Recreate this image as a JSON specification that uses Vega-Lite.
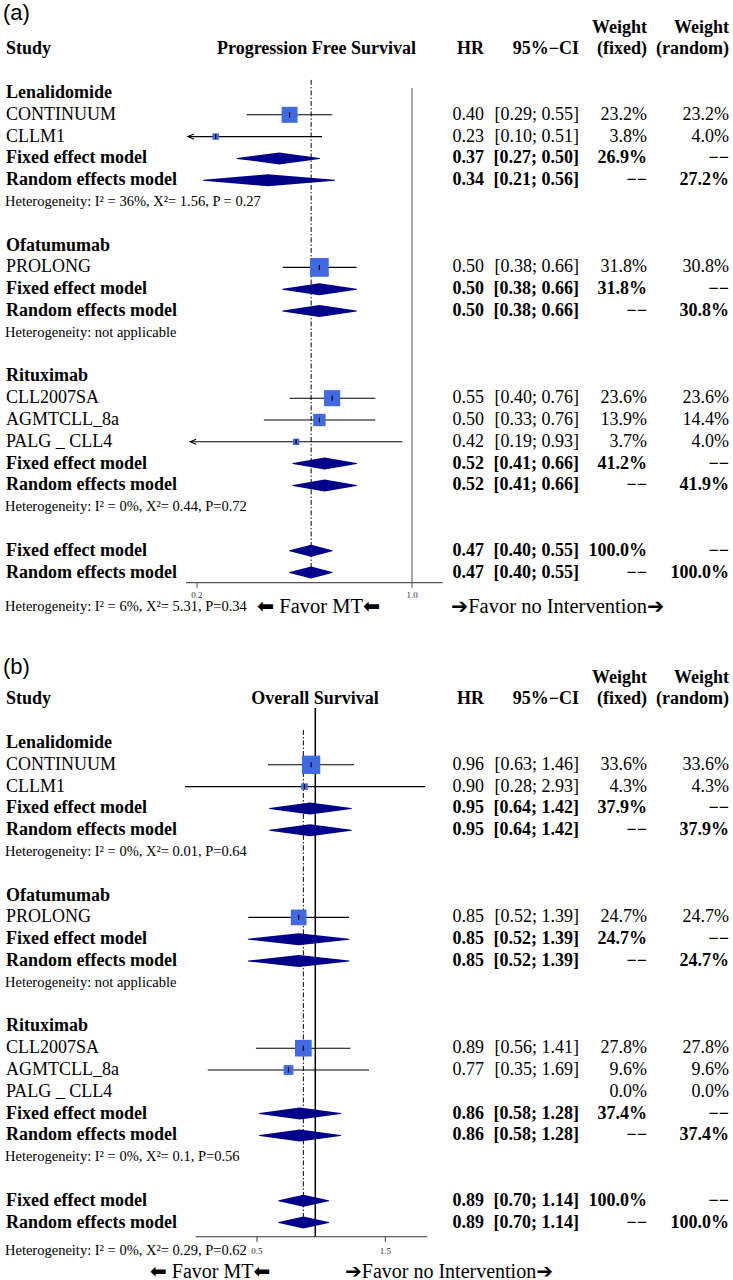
{
"$schema":"https://vega.github.io/schema/vega-lite/v6.json",
"padding":0,
"background":"white",
"spacing":0,
"bounds":"flush",
"config":{"view":{"stroke":null},"axis":{"disable":true},"legend":{"disable":true}},
"datasets":{
"pfs":[
{"row":-3.66,"kind":"panel","label":"(a)"},
{"row":-3,"kind":"head2","wf_t":"Weight","wr_t":"Weight"},
{"row":-2,"kind":"head","label":"Study","hr_t":"HR","ci_t":"95%−CI","wf_t":"(fixed)","wr_t":"(random)","plot_t":"Progression Free Survival"},
{"row":0,"kind":"group","label":"Lenalidomide"},
{"row":1,"kind":"study","label":"CONTINUUM","hr":0.40,"lo":0.29,"hi":0.55,"wf":23.2,"hr_t":"0.40","ci_t":"[0.29; 0.55]","wf_t":"23.2%","wr_t":"23.2%"},
{"row":2,"kind":"study","label":"CLLM1","hr":0.23,"lo":0.10,"hi":0.51,"wf":3.8,"hr_t":"0.23","ci_t":"[0.10; 0.51]","wf_t":"3.8%","wr_t":"4.0%"},
{"row":3,"kind":"fixed","label":"Fixed effect model","hr":0.37,"lo":0.27,"hi":0.50,"hr_t":"0.37","ci_t":"[0.27; 0.50]","wf_t":"26.9%","wr_t":"−−"},
{"row":4,"kind":"random","label":"Random effects model","hr":0.34,"lo":0.21,"hi":0.56,"hr_t":"0.34","ci_t":"[0.21; 0.56]","wf_t":"−−","wr_t":"27.2%"},
{"row":5,"kind":"het","label":"Heterogeneity: I² = 36%, X²= 1.56, P = 0.27"},
{"row":7,"kind":"group","label":"Ofatumumab"},
{"row":8,"kind":"study","label":"PROLONG","hr":0.50,"lo":0.38,"hi":0.66,"wf":31.8,"hr_t":"0.50","ci_t":"[0.38; 0.66]","wf_t":"31.8%","wr_t":"30.8%"},
{"row":9,"kind":"fixed","label":"Fixed effect model","hr":0.50,"lo":0.38,"hi":0.66,"hr_t":"0.50","ci_t":"[0.38; 0.66]","wf_t":"31.8%","wr_t":"−−"},
{"row":10,"kind":"random","label":"Random effects model","hr":0.50,"lo":0.38,"hi":0.66,"hr_t":"0.50","ci_t":"[0.38; 0.66]","wf_t":"−−","wr_t":"30.8%"},
{"row":11,"kind":"het","label":"Heterogeneity: not applicable"},
{"row":13,"kind":"group","label":"Rituximab"},
{"row":14,"kind":"study","label":"CLL2007SA","hr":0.55,"lo":0.40,"hi":0.76,"wf":23.6,"hr_t":"0.55","ci_t":"[0.40; 0.76]","wf_t":"23.6%","wr_t":"23.6%"},
{"row":15,"kind":"study","label":"AGMTCLL_8a","hr":0.50,"lo":0.33,"hi":0.76,"wf":13.9,"hr_t":"0.50","ci_t":"[0.33; 0.76]","wf_t":"13.9%","wr_t":"14.4%"},
{"row":16,"kind":"study","label":"PALG _ CLL4","hr":0.42,"lo":0.19,"hi":0.93,"wf":3.7,"hr_t":"0.42","ci_t":"[0.19; 0.93]","wf_t":"3.7%","wr_t":"4.0%"},
{"row":17,"kind":"fixed","label":"Fixed effect model","hr":0.52,"lo":0.41,"hi":0.66,"hr_t":"0.52","ci_t":"[0.41; 0.66]","wf_t":"41.2%","wr_t":"−−"},
{"row":18,"kind":"random","label":"Random effects model","hr":0.52,"lo":0.41,"hi":0.66,"hr_t":"0.52","ci_t":"[0.41; 0.66]","wf_t":"−−","wr_t":"41.9%"},
{"row":19,"kind":"het","label":"Heterogeneity: I² = 0%, X²= 0.44, P=0.72"},
{"row":21,"kind":"fixed","label":"Fixed effect model","hr":0.47,"lo":0.40,"hi":0.55,"hr_t":"0.47","ci_t":"[0.40; 0.55]","wf_t":"100.0%","wr_t":"−−"},
{"row":22,"kind":"random","label":"Random effects model","hr":0.47,"lo":0.40,"hi":0.55,"hr_t":"0.47","ci_t":"[0.40; 0.55]","wf_t":"−−","wr_t":"100.0%"},
{"row":23.56,"kind":"het","label":"Heterogeneity: I² = 6%, X²= 5.31, P=0.34"},
{"row":23.56,"kind":"favorL","label":"⬅ Favor MT⬅"},
{"row":23.56,"kind":"favorR","label":"➔Favor no Intervention➔"}
],
"os":[
{"row":-3.5,"kind":"panel","label":"(b)"},
{"row":-3,"kind":"head2","wf_t":"Weight","wr_t":"Weight"},
{"row":-2,"kind":"head","label":"Study","hr_t":"HR","ci_t":"95%−CI","wf_t":"(fixed)","wr_t":"(random)","plot_t":"Overall Survival"},
{"row":0,"kind":"group","label":"Lenalidomide"},
{"row":1,"kind":"study","label":"CONTINUUM","hr":0.96,"lo":0.63,"hi":1.46,"wf":33.6,"hr_t":"0.96","ci_t":"[0.63; 1.46]","wf_t":"33.6%","wr_t":"33.6%"},
{"row":2,"kind":"study","label":"CLLM1","hr":0.90,"lo":0.28,"hi":2.93,"wf":4.3,"hr_t":"0.90","ci_t":"[0.28; 2.93]","wf_t":"4.3%","wr_t":"4.3%"},
{"row":3,"kind":"fixed","label":"Fixed effect model","hr":0.95,"lo":0.64,"hi":1.42,"hr_t":"0.95","ci_t":"[0.64; 1.42]","wf_t":"37.9%","wr_t":"−−"},
{"row":4,"kind":"random","label":"Random effects model","hr":0.95,"lo":0.64,"hi":1.42,"hr_t":"0.95","ci_t":"[0.64; 1.42]","wf_t":"−−","wr_t":"37.9%"},
{"row":5,"kind":"het","label":"Heterogeneity: I² = 0%, X²= 0.01, P=0.64"},
{"row":7,"kind":"group","label":"Ofatumumab"},
{"row":8,"kind":"study","label":"PROLONG","hr":0.85,"lo":0.52,"hi":1.39,"wf":24.7,"hr_t":"0.85","ci_t":"[0.52; 1.39]","wf_t":"24.7%","wr_t":"24.7%"},
{"row":9,"kind":"fixed","label":"Fixed effect model","hr":0.85,"lo":0.52,"hi":1.39,"hr_t":"0.85","ci_t":"[0.52; 1.39]","wf_t":"24.7%","wr_t":"−−"},
{"row":10,"kind":"random","label":"Random effects model","hr":0.85,"lo":0.52,"hi":1.39,"hr_t":"0.85","ci_t":"[0.52; 1.39]","wf_t":"−−","wr_t":"24.7%"},
{"row":11,"kind":"het","label":"Heterogeneity: not applicable"},
{"row":13,"kind":"group","label":"Rituximab"},
{"row":14,"kind":"study","label":"CLL2007SA","hr":0.89,"lo":0.56,"hi":1.41,"wf":27.8,"hr_t":"0.89","ci_t":"[0.56; 1.41]","wf_t":"27.8%","wr_t":"27.8%"},
{"row":15,"kind":"study","label":"AGMTCLL_8a","hr":0.77,"lo":0.35,"hi":1.69,"wf":9.6,"hr_t":"0.77","ci_t":"[0.35; 1.69]","wf_t":"9.6%","wr_t":"9.6%"},
{"row":16,"kind":"study","label":"PALG _ CLL4","wf":0,"hr_t":"","ci_t":"","wf_t":"0.0%","wr_t":"0.0%"},
{"row":17,"kind":"fixed","label":"Fixed effect model","hr":0.86,"lo":0.58,"hi":1.28,"hr_t":"0.86","ci_t":"[0.58; 1.28]","wf_t":"37.4%","wr_t":"−−"},
{"row":18,"kind":"random","label":"Random effects model","hr":0.86,"lo":0.58,"hi":1.28,"hr_t":"0.86","ci_t":"[0.58; 1.28]","wf_t":"−−","wr_t":"37.4%"},
{"row":19,"kind":"het","label":"Heterogeneity: I² = 0%, X²= 0.1, P=0.56"},
{"row":21,"kind":"fixed","label":"Fixed effect model","hr":0.89,"lo":0.70,"hi":1.14,"hr_t":"0.89","ci_t":"[0.70; 1.14]","wf_t":"100.0%","wr_t":"−−"},
{"row":22,"kind":"random","label":"Random effects model","hr":0.89,"lo":0.70,"hi":1.14,"hr_t":"0.89","ci_t":"[0.70; 1.14]","wf_t":"−−","wr_t":"100.0%"},
{"row":23.3,"kind":"het","label":"Heterogeneity: I² = 0%, X²= 0.29, P=0.62"},
{"row":24.25,"kind":"favorL","label":"⬅ Favor MT⬅"},
{"row":24.25,"kind":"favorR","label":"➔Favor no Intervention➔"}
],
"ticks_a":[{"v":0.2,"lab":"0.2"},{"v":1.0,"lab":"1.0"}],
"ticks_b":[{"v":0.5,"lab":"0.5"},{"v":1.5,"lab":"1.5"}]
},
"vconcat":[
{
"width":733,"height":640,
"data":{"name":"pfs"},
"resolve":{"scale":{"x":"independent","size":"independent"}},
"layer":[
{"data":{"values":[{}]},"mark":{"type":"rule","color":"#8c8c8c","strokeWidth":1.5},
 "encoding":{"x":{"datum":1,"type":"quantitative","scale":{"type":"log","domain":[0.045779,11.053],"nice":false}},
  "y":{"datum":-0.23,"type":"quantitative","scale":{"domain":[-4.266,25.092],"reverse":true,"nice":false,"zero":false}},"y2":{"datum":22.46}}},
{"data":{"values":[{}]},"mark":{"type":"rule","color":"black","strokeWidth":1,"strokeDash":[5,2,1.5,2]},
 "encoding":{"x":{"datum":0.47,"type":"quantitative","scale":{"type":"log","domain":[0.045779,11.053],"nice":false}},
  "y":{"datum":-0.6,"type":"quantitative"},"y2":{"datum":22.2}}},
{"transform":[{"filter":"datum.kind=='study' && isValid(datum.lo)"},{"calculate":"max(datum.lo, 0.187)","as":"lo_d"}],
 "mark":{"type":"rule","color":"black","strokeWidth":1.1},
 "encoding":{"x":{"field":"lo_d","type":"quantitative","scale":{"type":"log","domain":[0.045779,11.053],"nice":false}},"x2":{"field":"hi"},
  "y":{"field":"row","type":"quantitative","scale":{"domain":[-4.266,25.092],"reverse":true,"nice":false,"zero":false}}}},
{"transform":[{"filter":"datum.kind=='study' && isValid(datum.lo) && datum.lo < 0.2"},{"calculate":"max(datum.lo, 0.187)","as":"lo_d"}],
 "mark":{"type":"point","shape":"M2,-0.85L0,0L2,0.85","filled":false,"stroke":"black","strokeWidth":1.1,"size":36,"opacity":1},
 "encoding":{"x":{"field":"lo_d","type":"quantitative","scale":{"type":"log","domain":[0.045779,11.053],"nice":false}},
  "y":{"field":"row","type":"quantitative"}}},
{"transform":[{"filter":"datum.kind=='study' && isValid(datum.hr)"}],
 "mark":{"type":"point","shape":"square","filled":true,"color":"#4169E1","opacity":1,"strokeWidth":0},
 "encoding":{"x":{"field":"hr","type":"quantitative","scale":{"type":"log","domain":[0.045779,11.053],"nice":false}},
  "y":{"field":"row","type":"quantitative"},
  "size":{"field":"wf","type":"quantitative","scale":{"domain":[0,100],"range":[0,1100],"zero":true},"legend":null}}},
{"transform":[{"filter":"datum.kind=='study' && isValid(datum.hr)"}],
 "mark":{"type":"tick","orient":"vertical","color":"black","thickness":1.2,"size":5,"opacity":1},
 "encoding":{"x":{"field":"hr","type":"quantitative","scale":{"type":"log","domain":[0.045779,11.053],"nice":false}},
  "y":{"field":"row","type":"quantitative"}}},
{"transform":[{"filter":"datum.kind=='fixed' || datum.kind=='random'"},{"fold":["lo","hr","hi"],"as":["k","v"]},{"calculate":"datum.k=='hr' ? 1 : 0","as":"w"}],
 "mark":{"type":"trail","color":"#00008B"},
 "encoding":{"x":{"field":"v","type":"quantitative","scale":{"type":"log","domain":[0.045779,11.053],"nice":false}},
  "y":{"field":"row","type":"quantitative"},
  "size":{"field":"w","type":"quantitative","scale":{"domain":[0,1],"range":[0,12]},"legend":null},
  "detail":{"field":"row","type":"nominal"}}},
{"data":{"values":[{}]},"mark":{"type":"rule","color":"#555555","strokeWidth":1.2},
 "encoding":{"x":{"datum":0.1842,"type":"quantitative","scale":{"type":"log","domain":[0.045779,11.053],"nice":false}},"x2":{"datum":1.2565},
  "y":{"datum":22.46,"type":"quantitative"}}},
{"data":{"name":"ticks_a"},"mark":{"type":"rule","color":"#555555","strokeWidth":1},
 "encoding":{"x":{"field":"v","type":"quantitative","scale":{"type":"log","domain":[0.045779,11.053],"nice":false}},
  "y":{"datum":22.46,"type":"quantitative"},"y2":{"datum":22.7}}},
{"data":{"name":"ticks_a"},"mark":{"type":"text","font":"Liberation Serif","fontSize":9,"baseline":"middle","align":"center","color":"#333333"},
 "encoding":{"x":{"field":"v","type":"quantitative","scale":{"type":"log","domain":[0.045779,11.053],"nice":false}},
  "y":{"datum":23.03,"type":"quantitative"},"text":{"field":"lab"}}},
{"transform":[{"filter":"datum.kind=='study'"}],
 "mark":{"type":"text","font":"Liberation Serif","fontSize":18,"align":"left","baseline":"middle","color":"black"},
 "encoding":{"x":{"datum":6,"type":"quantitative","scale":{"domain":[0,733],"nice":false,"zero":false}},"y":{"field":"row","type":"quantitative"},"text":{"field":"label"}}},
{"transform":[{"filter":"datum.kind=='group' || datum.kind=='fixed' || datum.kind=='random' || datum.kind=='head'"}],
 "mark":{"type":"text","font":"Liberation Serif","fontSize":18,"fontWeight":"bold","align":"left","baseline":"middle","color":"black"},
 "encoding":{"x":{"datum":6,"type":"quantitative","scale":{"domain":[0,733],"nice":false,"zero":false}},"y":{"field":"row","type":"quantitative"},"text":{"field":"label"}}},
{"transform":[{"filter":"datum.kind=='het'"}],
 "mark":{"type":"text","font":"Liberation Serif","fontSize":14.5,"align":"left","baseline":"middle","color":"black"},
 "encoding":{"x":{"datum":5,"type":"quantitative","scale":{"domain":[0,733],"nice":false,"zero":false}},"y":{"field":"row","type":"quantitative"},"text":{"field":"label"}}},
{"transform":[{"filter":"datum.kind=='favorL'"}],
 "mark":{"type":"text","font":"Liberation Serif, DejaVu Sans","fontSize":20.5,"align":"left","baseline":"middle","color":"black"},
 "encoding":{"x":{"datum":257,"type":"quantitative","scale":{"domain":[0,733],"nice":false,"zero":false}},"y":{"field":"row","type":"quantitative"},"text":{"field":"label"}}},
{"transform":[{"filter":"datum.kind=='favorR'"}],
 "mark":{"type":"text","font":"Liberation Serif, DejaVu Sans","fontSize":20.5,"align":"left","baseline":"middle","color":"black"},
 "encoding":{"x":{"datum":451,"type":"quantitative","scale":{"domain":[0,733],"nice":false,"zero":false}},"y":{"field":"row","type":"quantitative"},"text":{"field":"label"}}},
{"transform":[{"filter":"datum.kind=='panel'"}],
 "mark":{"type":"text","font":"Liberation Sans","fontSize":22,"align":"left","baseline":"middle","color":"black"},
 "encoding":{"x":{"datum":3,"type":"quantitative","scale":{"domain":[0,733],"nice":false,"zero":false}},"y":{"field":"row","type":"quantitative"},"text":{"field":"label"}}},
{"transform":[{"filter":"datum.kind=='head'"}],
 "mark":{"type":"text","font":"Liberation Serif","fontSize":18,"fontWeight":"bold","align":"right","baseline":"middle","color":"black"},
 "encoding":{"x":{"datum":416,"type":"quantitative","scale":{"domain":[0,733],"nice":false,"zero":false}},"y":{"field":"row","type":"quantitative"},"text":{"field":"plot_t"}}},
{"transform":[{"filter":"datum.kind=='study'"}],
 "mark":{"type":"text","font":"Liberation Serif","fontSize":18,"align":"right","baseline":"middle","color":"black"},
 "encoding":{"x":{"datum":484,"type":"quantitative","scale":{"domain":[0,733],"nice":false,"zero":false}},"y":{"field":"row","type":"quantitative"},"text":{"field":"hr_t"}}},
{"transform":[{"filter":"datum.kind=='fixed' || datum.kind=='random' || datum.kind=='head'"}],
 "mark":{"type":"text","font":"Liberation Serif","fontSize":18,"fontWeight":"bold","align":"right","baseline":"middle","color":"black"},
 "encoding":{"x":{"datum":484,"type":"quantitative","scale":{"domain":[0,733],"nice":false,"zero":false}},"y":{"field":"row","type":"quantitative"},"text":{"field":"hr_t"}}},
{"transform":[{"filter":"datum.kind=='study'"}],
 "mark":{"type":"text","font":"Liberation Serif","fontSize":18,"align":"right","baseline":"middle","color":"black"},
 "encoding":{"x":{"datum":579,"type":"quantitative","scale":{"domain":[0,733],"nice":false,"zero":false}},"y":{"field":"row","type":"quantitative"},"text":{"field":"ci_t"}}},
{"transform":[{"filter":"datum.kind=='fixed' || datum.kind=='random' || datum.kind=='head'"}],
 "mark":{"type":"text","font":"Liberation Serif","fontSize":18,"fontWeight":"bold","align":"right","baseline":"middle","color":"black"},
 "encoding":{"x":{"datum":579,"type":"quantitative","scale":{"domain":[0,733],"nice":false,"zero":false}},"y":{"field":"row","type":"quantitative"},"text":{"field":"ci_t"}}},
{"transform":[{"filter":"datum.kind=='study'"}],
 "mark":{"type":"text","font":"Liberation Serif","fontSize":18,"align":"right","baseline":"middle","color":"black"},
 "encoding":{"x":{"datum":647,"type":"quantitative","scale":{"domain":[0,733],"nice":false,"zero":false}},"y":{"field":"row","type":"quantitative"},"text":{"field":"wf_t"}}},
{"transform":[{"filter":"datum.kind=='fixed' || datum.kind=='random' || datum.kind=='head' || datum.kind=='head2'"}],
 "mark":{"type":"text","font":"Liberation Serif","fontSize":18,"fontWeight":"bold","align":"right","baseline":"middle","color":"black"},
 "encoding":{"x":{"datum":647,"type":"quantitative","scale":{"domain":[0,733],"nice":false,"zero":false}},"y":{"field":"row","type":"quantitative"},"text":{"field":"wf_t"}}},
{"transform":[{"filter":"datum.kind=='study'"}],
 "mark":{"type":"text","font":"Liberation Serif","fontSize":18,"align":"right","baseline":"middle","color":"black"},
 "encoding":{"x":{"datum":729,"type":"quantitative","scale":{"domain":[0,733],"nice":false,"zero":false}},"y":{"field":"row","type":"quantitative"},"text":{"field":"wr_t"}}},
{"transform":[{"filter":"datum.kind=='fixed' || datum.kind=='random' || datum.kind=='head' || datum.kind=='head2'"}],
 "mark":{"type":"text","font":"Liberation Serif","fontSize":18,"fontWeight":"bold","align":"right","baseline":"middle","color":"black"},
 "encoding":{"x":{"datum":729,"type":"quantitative","scale":{"domain":[0,733],"nice":false,"zero":false}},"y":{"field":"row","type":"quantitative"},"text":{"field":"wr_t"}}}
]
},
{
"width":733,"height":640,
"data":{"name":"os"},
"resolve":{"scale":{"x":"independent","size":"independent"}},
"layer":[
{"data":{"values":[{}]},"mark":{"type":"rule","color":"black","strokeWidth":1.5},
 "encoding":{"x":{"datum":1,"type":"quantitative","scale":{"type":"log","domain":[0.046008,59.1],"nice":false}},
  "y":{"datum":-1.6,"type":"quantitative","scale":{"domain":[-4.725,24.633],"reverse":true,"nice":false,"zero":false}},"y2":{"datum":22.65}}},
{"data":{"values":[{}]},"mark":{"type":"rule","color":"black","strokeWidth":1,"strokeDash":[5,2,1.5,2]},
 "encoding":{"x":{"datum":0.89,"type":"quantitative","scale":{"type":"log","domain":[0.046008,59.1],"nice":false}},
  "y":{"datum":-0.6,"type":"quantitative"},"y2":{"datum":22.2}}},
{"transform":[{"filter":"datum.kind=='study' && isValid(datum.lo)"}],
 "mark":{"type":"rule","color":"black","strokeWidth":1.1},
 "encoding":{"x":{"field":"lo","type":"quantitative","scale":{"type":"log","domain":[0.046008,59.1],"nice":false}},"x2":{"field":"hi"},
  "y":{"field":"row","type":"quantitative","scale":{"domain":[-4.725,24.633],"reverse":true,"nice":false,"zero":false}}}},
{"transform":[{"filter":"datum.kind=='study' && isValid(datum.hr)"}],
 "mark":{"type":"point","shape":"square","filled":true,"color":"#4169E1","opacity":1,"strokeWidth":0},
 "encoding":{"x":{"field":"hr","type":"quantitative","scale":{"type":"log","domain":[0.046008,59.1],"nice":false}},
  "y":{"field":"row","type":"quantitative"},
  "size":{"field":"wf","type":"quantitative","scale":{"domain":[0,100],"range":[0,1000],"zero":true},"legend":null}}},
{"transform":[{"filter":"datum.kind=='study' && isValid(datum.hr)"}],
 "mark":{"type":"tick","orient":"vertical","color":"black","thickness":1.2,"size":5,"opacity":1},
 "encoding":{"x":{"field":"hr","type":"quantitative","scale":{"type":"log","domain":[0.046008,59.1],"nice":false}},
  "y":{"field":"row","type":"quantitative"}}},
{"transform":[{"filter":"datum.kind=='fixed' || datum.kind=='random'"},{"fold":["lo","hr","hi"],"as":["k","v"]},{"calculate":"datum.k=='hr' ? 1 : 0","as":"w"}],
 "mark":{"type":"trail","color":"#00008B"},
 "encoding":{"x":{"field":"v","type":"quantitative","scale":{"type":"log","domain":[0.046008,59.1],"nice":false}},
  "y":{"field":"row","type":"quantitative"},
  "size":{"field":"w","type":"quantitative","scale":{"domain":[0,1],"range":[0,12]},"legend":null},
  "detail":{"field":"row","type":"nominal"}}},
{"data":{"values":[{}]},"mark":{"type":"rule","color":"#333333","strokeWidth":1.2},
 "encoding":{"x":{"datum":0.022,"type":"quantitative","scale":{"domain":[-1.503,4.21],"nice":false,"zero":false}},"x2":{"datum":1.827},
  "y":{"datum":22.65,"type":"quantitative"}}},
{"data":{"name":"ticks_b"},"mark":{"type":"rule","color":"#333333","strokeWidth":1},
 "encoding":{"x":{"field":"v","type":"quantitative","scale":{"domain":[-1.503,4.21],"nice":false,"zero":false}},
  "y":{"datum":22.65,"type":"quantitative"},"y2":{"datum":22.88}}},
{"data":{"name":"ticks_b"},"mark":{"type":"text","font":"Liberation Serif","fontSize":9,"baseline":"middle","align":"center","color":"#333333"},
 "encoding":{"x":{"field":"v","type":"quantitative","scale":{"domain":[-1.503,4.21],"nice":false,"zero":false}},
  "y":{"datum":23.3,"type":"quantitative"},"text":{"field":"lab"}}},
{"transform":[{"filter":"datum.kind=='study'"}],
 "mark":{"type":"text","font":"Liberation Serif","fontSize":18,"align":"left","baseline":"middle","color":"black"},
 "encoding":{"x":{"datum":6,"type":"quantitative","scale":{"domain":[0,733],"nice":false,"zero":false}},"y":{"field":"row","type":"quantitative"},"text":{"field":"label"}}},
{"transform":[{"filter":"datum.kind=='group' || datum.kind=='fixed' || datum.kind=='random' || datum.kind=='head'"}],
 "mark":{"type":"text","font":"Liberation Serif","fontSize":18,"fontWeight":"bold","align":"left","baseline":"middle","color":"black"},
 "encoding":{"x":{"datum":6,"type":"quantitative","scale":{"domain":[0,733],"nice":false,"zero":false}},"y":{"field":"row","type":"quantitative"},"text":{"field":"label"}}},
{"transform":[{"filter":"datum.kind=='het'"}],
 "mark":{"type":"text","font":"Liberation Serif","fontSize":14.5,"align":"left","baseline":"middle","color":"black"},
 "encoding":{"x":{"datum":5,"type":"quantitative","scale":{"domain":[0,733],"nice":false,"zero":false}},"y":{"field":"row","type":"quantitative"},"text":{"field":"label"}}},
{"transform":[{"filter":"datum.kind=='favorL'"}],
 "mark":{"type":"text","font":"Liberation Serif, DejaVu Sans","fontSize":20,"align":"left","baseline":"middle","color":"black"},
 "encoding":{"x":{"datum":150,"type":"quantitative","scale":{"domain":[0,733],"nice":false,"zero":false}},"y":{"field":"row","type":"quantitative"},"text":{"field":"label"}}},
{"transform":[{"filter":"datum.kind=='favorR'"}],
 "mark":{"type":"text","font":"Liberation Serif, DejaVu Sans","fontSize":20,"align":"left","baseline":"middle","color":"black"},
 "encoding":{"x":{"datum":345,"type":"quantitative","scale":{"domain":[0,733],"nice":false,"zero":false}},"y":{"field":"row","type":"quantitative"},"text":{"field":"label"}}},
{"transform":[{"filter":"datum.kind=='panel'"}],
 "mark":{"type":"text","font":"Liberation Sans","fontSize":22,"align":"left","baseline":"middle","color":"black"},
 "encoding":{"x":{"datum":3,"type":"quantitative","scale":{"domain":[0,733],"nice":false,"zero":false}},"y":{"field":"row","type":"quantitative"},"text":{"field":"label"}}},
{"transform":[{"filter":"datum.kind=='head'"}],
 "mark":{"type":"text","font":"Liberation Serif","fontSize":18,"fontWeight":"bold","align":"center","baseline":"middle","color":"black"},
 "encoding":{"x":{"datum":315,"type":"quantitative","scale":{"domain":[0,733],"nice":false,"zero":false}},"y":{"field":"row","type":"quantitative"},"text":{"field":"plot_t"}}},
{"transform":[{"filter":"datum.kind=='study'"}],
 "mark":{"type":"text","font":"Liberation Serif","fontSize":18,"align":"right","baseline":"middle","color":"black"},
 "encoding":{"x":{"datum":484,"type":"quantitative","scale":{"domain":[0,733],"nice":false,"zero":false}},"y":{"field":"row","type":"quantitative"},"text":{"field":"hr_t"}}},
{"transform":[{"filter":"datum.kind=='fixed' || datum.kind=='random' || datum.kind=='head'"}],
 "mark":{"type":"text","font":"Liberation Serif","fontSize":18,"fontWeight":"bold","align":"right","baseline":"middle","color":"black"},
 "encoding":{"x":{"datum":484,"type":"quantitative","scale":{"domain":[0,733],"nice":false,"zero":false}},"y":{"field":"row","type":"quantitative"},"text":{"field":"hr_t"}}},
{"transform":[{"filter":"datum.kind=='study'"}],
 "mark":{"type":"text","font":"Liberation Serif","fontSize":18,"align":"right","baseline":"middle","color":"black"},
 "encoding":{"x":{"datum":579,"type":"quantitative","scale":{"domain":[0,733],"nice":false,"zero":false}},"y":{"field":"row","type":"quantitative"},"text":{"field":"ci_t"}}},
{"transform":[{"filter":"datum.kind=='fixed' || datum.kind=='random' || datum.kind=='head'"}],
 "mark":{"type":"text","font":"Liberation Serif","fontSize":18,"fontWeight":"bold","align":"right","baseline":"middle","color":"black"},
 "encoding":{"x":{"datum":579,"type":"quantitative","scale":{"domain":[0,733],"nice":false,"zero":false}},"y":{"field":"row","type":"quantitative"},"text":{"field":"ci_t"}}},
{"transform":[{"filter":"datum.kind=='study'"}],
 "mark":{"type":"text","font":"Liberation Serif","fontSize":18,"align":"right","baseline":"middle","color":"black"},
 "encoding":{"x":{"datum":647,"type":"quantitative","scale":{"domain":[0,733],"nice":false,"zero":false}},"y":{"field":"row","type":"quantitative"},"text":{"field":"wf_t"}}},
{"transform":[{"filter":"datum.kind=='fixed' || datum.kind=='random' || datum.kind=='head' || datum.kind=='head2'"}],
 "mark":{"type":"text","font":"Liberation Serif","fontSize":18,"fontWeight":"bold","align":"right","baseline":"middle","color":"black"},
 "encoding":{"x":{"datum":647,"type":"quantitative","scale":{"domain":[0,733],"nice":false,"zero":false}},"y":{"field":"row","type":"quantitative"},"text":{"field":"wf_t"}}},
{"transform":[{"filter":"datum.kind=='study'"}],
 "mark":{"type":"text","font":"Liberation Serif","fontSize":18,"align":"right","baseline":"middle","color":"black"},
 "encoding":{"x":{"datum":729,"type":"quantitative","scale":{"domain":[0,733],"nice":false,"zero":false}},"y":{"field":"row","type":"quantitative"},"text":{"field":"wr_t"}}},
{"transform":[{"filter":"datum.kind=='fixed' || datum.kind=='random' || datum.kind=='head' || datum.kind=='head2'"}],
 "mark":{"type":"text","font":"Liberation Serif","fontSize":18,"fontWeight":"bold","align":"right","baseline":"middle","color":"black"},
 "encoding":{"x":{"datum":729,"type":"quantitative","scale":{"domain":[0,733],"nice":false,"zero":false}},"y":{"field":"row","type":"quantitative"},"text":{"field":"wr_t"}}}
]
}
]
}
